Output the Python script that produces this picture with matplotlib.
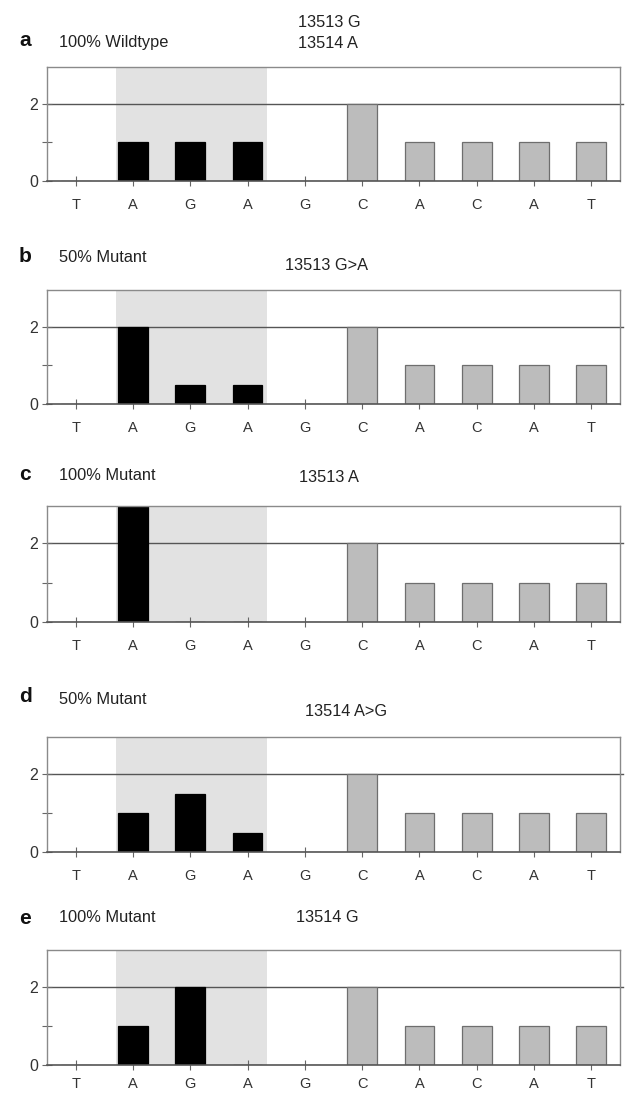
import matplotlib
matplotlib.use("Agg")
import matplotlib.pyplot as plt

plt.rcParams['font.family'] = ['Liberation Sans', 'DejaVu Sans']

bases = ["T", "A", "G", "A", "G", "C", "A", "C", "A", "T"]
panel_letters = ["a", "b", "c", "d", "e"]
left_labels = ["100% Wildtype", "50% Mutant", "100% Mutant", "50% Mutant", "100% Mutant"]
right_labels = ["13513 G\n13514 A", "13513 G>A", "13513 A", "13514 A>G", "13514 G"]
values_a = [0, 1, 1, 1, 0, 2, 1, 1, 1, 1]
values_b = [0, 2, 0.5, 0.5, 0, 2, 1, 1, 1, 1]
values_c = [0, 3, 0, 0, 0, 2, 1, 1, 1, 1]
values_d = [0, 1, 1.5, 0.5, 0, 2, 1, 1, 1, 1]
values_e = [0, 1, 2, 0, 0, 2, 1, 1, 1, 1]
all_values = [values_a, values_b, values_c, values_d, values_e]
black_idx = [1, 2, 3]

W, H = 625, 1094
fig = plt.figure(figsize=(W / 100, H / 100), dpi=100)

# pixel geometry: zero-line y and top y for each panel
zeros = [181, 404, 622, 852, 1065]
tops = [67, 290, 506, 737, 950]
letter_y = [40, 257, 474, 697, 918]
left_y = [42, 257, 476, 700, 918]
right_y = [33, 265, 478, 712, 918]
right_x = [298, 285, 299, 305, 296]
xpads = [9, 9, 9, 9, 5]

ax_left, ax_right = 47, 620

for i, vals in enumerate(all_values):
    bottom = 1 - zeros[i] / H
    height = (zeros[i] - tops[i]) / H
    ax = fig.add_axes([ax_left / W, bottom, (ax_right - ax_left) / W, height])
    ax.set_xlim(-0.5, 9.5)
    ax.set_ylim(0, 2.95)
    ax.axvspan(0.70, 3.34, color="#e2e2e2", lw=0, zorder=0)
    x = list(range(len(bases)))
    colors = ["black" if j in black_idx else "#bcbcbc" for j in x]
    edges = ["black" if j in black_idx else "#6e6e6e" for j in x]
    ax.bar(x, vals, width=0.52, color=colors, edgecolor=edges, linewidth=0.9, zorder=2)
    ax.plot([-0.5, 9.56], [2, 2], color="#555555", lw=1.0, zorder=1, clip_on=False)
    for s in ["top", "left", "right"]:
        ax.spines[s].set_color("#8a8a8a")
        ax.spines[s].set_linewidth(1.0)
    ax.spines["bottom"].set_color("#555555")
    ax.spines["bottom"].set_linewidth(1.2)
    ax.set_xticks(x)
    ax.set_xticklabels(bases, fontsize=10.5, color="#333333")
    ax.set_yticks([0, 1, 2])
    ax.set_yticklabels(["0", "", "2"], fontsize=11.5, color="#333333")
    ax.tick_params(axis="x", direction="inout", length=7, width=0.8, color="#666666", pad=xpads[i])
    ax.tick_params(axis="y", direction="inout", length=7, width=0.8, color="#666666", pad=3)

    fig.text(25 / W, 1 - letter_y[i] / H, panel_letters[i], fontsize=15, fontweight="bold",
             ha="center", va="center", color="#111111")
    fig.text(59 / W, 1 - left_y[i] / H, left_labels[i], fontsize=11.8,
             ha="left", va="center", color="#222222")
    fig.text(right_x[i] / W, 1 - right_y[i] / H, right_labels[i], fontsize=11.8,
             ha="left", va="center", color="#222222", linespacing=1.5)

fig.savefig("out.png", dpi=100)
